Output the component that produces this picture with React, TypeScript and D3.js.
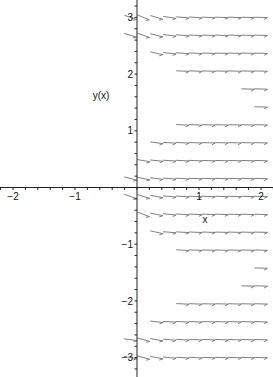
import { useEffect, useRef } from 'react';
import * as d3 from 'd3';

// direction field columns (x) and rows (y)
const xCols = [-0.105, 0.105, 0.316, 0.526, 0.737, 0.947, 1.158, 1.368, 1.579, 1.789, 2.0];
const yRows = [
  -3.0, -2.684, -2.368, -2.053, -1.737, -1.421, -1.105, -0.789, -0.474, -0.158,
  0.158, 0.474, 0.789, 1.105, 1.421, 1.737, 2.053, 2.368, 2.684, 3.0,
];

// slopes dy/dx per row, right-aligned on the columns (each row ends at x = 2)
const rowSlopes: number[][] = [
  [-0.2, -0.3, -0.2, -0.1, -0.06, -0.05, -0.04, -0.04, -0.03, -0.03, -0.03],
  [-0.15, -0.3, -0.2, -0.1, -0.06, -0.05, -0.04, -0.04, -0.03, -0.03, -0.03],
  [-0.12, -0.06, -0.05, -0.04, -0.03, -0.03, -0.03, -0.03, -0.03],
  [-0.05, -0.04, -0.03, -0.03, -0.03, -0.03, -0.03],
  [-0.03, -0.03],
  [-0.03],
  [-0.06, -0.04, -0.03, -0.03, -0.03, -0.03, -0.03],
  [-0.24, -0.09, -0.06, -0.05, -0.04, -0.03, -0.03, -0.03, -0.03],
  [-0.42, -0.22, -0.11, -0.07, -0.05, -0.04, -0.04, -0.03, -0.03, -0.03],
  [-0.38, -0.33, -0.2, -0.1, -0.07, -0.05, -0.04, -0.04, -0.03, -0.03, -0.03],
  [-0.28, -0.22, -0.13, -0.08, -0.05, -0.04, -0.04, -0.03, -0.03, -0.03, -0.03],
  [-0.19, -0.11, -0.07, -0.05, -0.04, -0.03, -0.03, -0.03, -0.03, -0.03],
  [-0.15, -0.07, -0.05, -0.04, -0.03, -0.03, -0.03, -0.03, -0.03],
  [-0.05, -0.04, -0.03, -0.03, -0.03, -0.03, -0.03],
  [-0.03],
  [-0.03, -0.03],
  [-0.05, -0.04, -0.03, -0.03, -0.03, -0.03, -0.03],
  [-0.24, -0.11, -0.07, -0.05, -0.04, -0.03, -0.03, -0.03, -0.03],
  [-0.33, -0.38, -0.27, -0.13, -0.08, -0.05, -0.04, -0.04, -0.03, -0.03, -0.03],
  [-0.38, -0.44, -0.33, -0.16, -0.09, -0.07, -0.05, -0.04, -0.04, -0.03, -0.03],
];

const xMajor = [-2, -1, 1, 2];
const yMajor = [-3, -2, -1, 1, 2, 3];

interface Arrow { x: number; y: number; slope: number; }

export default function App() {
  const ref = useRef<SVGSVGElement>(null);
  const width = 273, height = 377;

  useEffect(() => {
    if (!ref.current) return;
    const svg = d3.select(ref.current);
    svg.selectAll('*').remove();

    const x = d3.scaleLinear().domain([-2, 2]).range([13, 261]);
    const y = d3.scaleLinear().domain([-3, 3]).range([357.6, 17.4]);
    const font = '"Liberation Sans", Arial, sans-serif';

    const arrows: Arrow[] = [];
    yRows.forEach((yv, j) => {
      const s = rowSlopes[j];
      const start = xCols.length - s.length;
      s.forEach((slope, i) => arrows.push({ x: xCols[start + i], y: yv, slope }));
    });

    // arrows
    const L = 13, head = 3.8;
    const g = svg.append('g').attr('stroke', '#707070').attr('stroke-width', 0.9).attr('fill', 'none');
    arrows.forEach(a => {
      const cx = x(a.x), cy = y(a.y);
      const dx = x(a.x + 1) - cx, dy = y(a.y + a.slope) - cy;
      const n = Math.hypot(dx, dy);
      const ux = dx / n, uy = dy / n;
      const x0 = cx - ux * L / 2, y0 = cy - uy * L / 2;
      const x1 = cx + ux * L / 2, y1 = cy + uy * L / 2;
      // barb on the upper side
      const ang = Math.PI / 6;
      const bx = x1 - head * (ux * Math.cos(ang) + uy * Math.sin(ang));
      const by = y1 - head * (uy * Math.cos(ang) - ux * Math.sin(ang));
      g.append('path').attr('d', `M${x0},${y0}L${x1},${y1}M${bx},${by}L${x1},${y1}`);
    });

    // axes
    const ax = svg.append('g').attr('stroke', '#222').attr('stroke-width', 1);
    ax.append('line').attr('x1', 0).attr('x2', width).attr('y1', y(0)).attr('y2', y(0));
    ax.append('line').attr('x1', x(0)).attr('x2', x(0)).attr('y1', 0).attr('y2', height);

    const xMinor = d3.range(-22, 23, 2).map(d => d / 10);
    ax.selectAll('.xt').data(xMinor).enter().append('line')
      .attr('x1', d => x(d)).attr('x2', d => x(d))
      .attr('y1', y(0)).attr('y2', y(0) + 2.5);
    const yMinor = d3.range(-32, 33, 2).map(d => d / 10);
    ax.selectAll('.yt').data(yMinor).enter().append('line')
      .attr('x1', x(0) - 2.5).attr('x2', x(0))
      .attr('y1', d => y(d)).attr('y2', d => y(d));

    const fmt = (d: number) => (d < 0 ? '\u2212' + Math.abs(d) : String(d));

    svg.selectAll('.xl').data(xMajor).enter().append('text')
      .attr('x', d => x(d)).attr('y', y(0) + 12.5)
      .attr('text-anchor', 'middle').attr('font-family', font).attr('font-size', 10)
      .attr('fill', '#111').text(fmt);

    svg.selectAll('.yl').data(yMajor).enter().append('text')
      .attr('x', x(0) - 4).attr('y', d => y(d) + 3.6)
      .attr('text-anchor', 'end').attr('font-family', font).attr('font-size', 10)
      .attr('fill', '#111').text(fmt);

    svg.append('text').attr('x', 205).attr('y', 223)
      .attr('text-anchor', 'middle').attr('font-family', font).attr('font-size', 10)
      .attr('fill', '#111').text('x');
    svg.append('text').attr('x', 101).attr('y', 99)
      .attr('text-anchor', 'middle').attr('font-family', font).attr('font-size', 10)
      .attr('fill', '#111').text('y(x)');
  }, []);

  return (
    <div style={{ position: 'absolute', left: 0, top: 0, background: '#fff' }}>
      <svg ref={ref} width={width} height={height} style={{ display: 'block' }} />
    </div>
  );
}
